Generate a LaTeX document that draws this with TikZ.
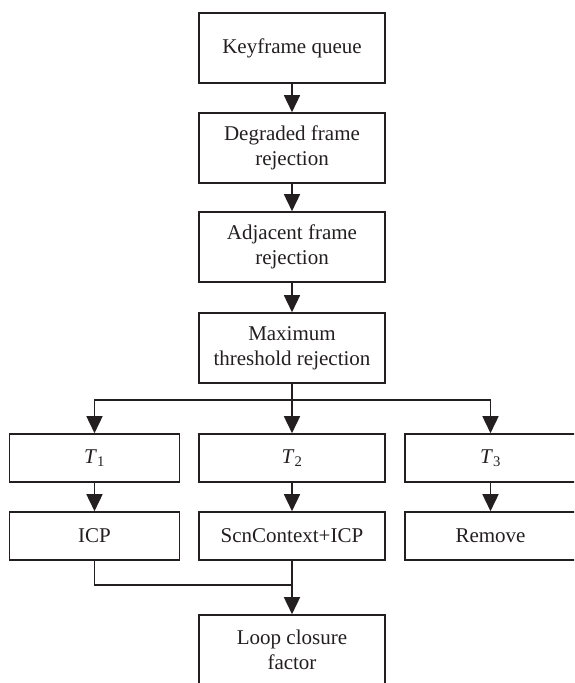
\documentclass[tikz,border=0pt]{standalone}
\usepackage{fontspec}
\setmainfont{Liberation Serif}
\usetikzlibrary{arrows.meta}
\definecolor{ink}{HTML}{231F20}
\tikzset{
  box/.style={draw=ink, line width=1.6pt, rectangle, inner sep=0pt, align=center,
    font=\fontsize{21}{25}\selectfont, text=ink},
  wide/.style={box, minimum width=186pt, minimum height=70pt},
  tbox/.style={box, minimum height=48pt},
  conn/.style={draw=ink, line width=1.6pt},
  arr/.style={conn, -{Triangle[length=17pt,width=16pt]}}
}
\begin{document}
\begin{tikzpicture}[x=1pt,y=-1pt]
\useasboundingbox (0,0) rectangle (574,683);
\clip (0,0) rectangle (574,683);
\node[wide] (k1) at (292,48) {Keyframe queue};
\node[wide] (k2) at (292,148) {Degraded frame\\rejection};
\node[wide] (k3) at (292,247) {Adjacent frame\\rejection};
\node[wide] (k4) at (292,348) {Maximum\\threshold rejection};
\node[tbox, minimum width=170pt] (t1) at (94.5,458) {\textit{T}\textsubscript{1}};
\node[tbox, minimum width=186pt] (t2) at (292,458) {\textit{T}\textsubscript{2}};
\node[tbox, minimum width=171pt] (t3) at (490.5,458) {\textit{T}\textsubscript{3}};
\node[tbox, minimum width=170pt] (i1) at (94.5,536) {ICP};
\node[tbox, minimum width=186pt] (i2) at (292,536) {ScnContext+ICP};
\node[tbox, minimum width=171pt] (i3) at (490.5,536) {Remove};
\node[wide] (lc) at (292,650) {Loop closure\\factor};
\coordinate (sp) at (292,400);
\coordinate (mg) at (292,585);
\draw[arr] (k1) -- (k2);
\draw[arr] (k2) -- (k3);
\draw[arr] (k3) -- (k4);
\draw[conn] (k4) -- (sp);
\draw[arr] (sp) -| (t1);
\draw[arr] (sp) -- (t2);
\draw[arr] (sp) -| (t3);
\draw[arr] (t1) -- (i1);
\draw[arr] (t2) -- (i2);
\draw[arr] (t3) -- (i3);
\draw[conn] (i1.south) |- (mg);
\draw[arr] (i2) -- (lc);
\end{tikzpicture}
\end{document}
